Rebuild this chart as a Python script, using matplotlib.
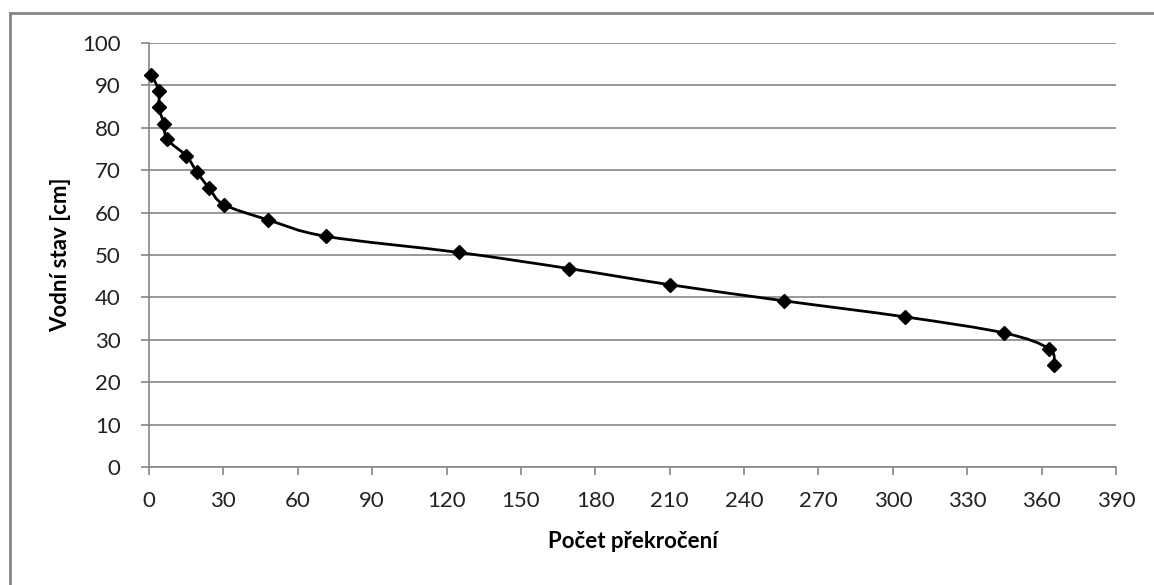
import numpy as np
import matplotlib.pyplot as plt
from matplotlib.path import Path
from matplotlib.patches import PathPatch
from matplotlib.lines import Line2D

plt.rcParams['font.family'] = ['Lato', 'DejaVu Sans']

# Počet překročení (x) a vodní stav v cm (y)
pocet = [1, 4, 4, 6, 7.3, 15, 19.4, 24.2, 30.2, 48, 71.4, 125, 169.4, 210, 256, 305, 345, 363, 365]
stav = [92.5, 88.6, 84.8, 81.0, 77.3, 73.4, 69.5, 65.8, 61.9, 58.3, 54.4, 50.6, 46.8, 43.0, 39.2, 35.4, 31.6, 27.9, 24.1]

x_ticks = list(range(0, 391, 30))
y_ticks = list(range(0, 101, 10))

grid_col = '#868686'

fig = plt.figure(figsize=(11.54, 5.85), dpi=100)
ax = fig.add_axes([149 / 1154, 118 / 585, (1116 - 149) / 1154, (467 - 43) / 585])

# vyhlazená čára (jako v Excelu) - Bezierovy segmenty
pts = np.column_stack([pocet, stav])
verts = [pts[0]]
codes = [Path.MOVETO]
n = len(pts)
for i in range(n - 1):
    p0 = pts[max(i - 1, 0)]
    p1 = pts[i]
    p2 = pts[i + 1]
    p3 = pts[min(i + 2, n - 1)]
    c1 = p1 + (p2 - p0) / 6.0
    c2 = p2 - (p3 - p1) / 6.0
    verts += [c1, c2, p2]
    codes += [Path.CURVE4] * 3
patch = PathPatch(Path(verts, codes), facecolor='none', edgecolor='black', lw=2, zorder=3,
                  clip_on=False)
ax.add_patch(patch)
ax.plot(pocet, stav, linestyle='none', marker='D', markersize=7.5, color='black', zorder=4,
        clip_on=False)

ax.set_xlim(0, 390)
ax.set_ylim(0, 100)
ax.set_xticks(x_ticks)
ax.set_yticks(y_ticks)
ax.yaxis.grid(True, color=grid_col, lw=1.2)
ax.set_axisbelow(True)
for s in ['top', 'right']:
    ax.spines[s].set_visible(False)
for s in ['left', 'bottom']:
    ax.spines[s].set_color(grid_col)
    ax.spines[s].set_linewidth(1.2)
ax.tick_params(axis='both', colors=grid_col, length=5.5, width=1.2, labelsize=16,
               labelcolor='#222222')
ax.tick_params(axis='x', pad=12)
ax.tick_params(axis='y', pad=15)

ax.set_xlabel('Počet překročení', fontsize=16, fontweight='bold', labelpad=14)
ax.set_ylabel('Vodní stav [cm]', fontsize=16, fontweight='bold', labelpad=8)

# rámeček grafu
fig.add_artist(Line2D([10 / 1154, 10 / 1154], [0, 1 - 13 / 585], transform=fig.transFigure,
                      color=grid_col, lw=2))
fig.add_artist(Line2D([10 / 1154, 1], [1 - 13 / 585, 1 - 13 / 585], transform=fig.transFigure,
                      color=grid_col, lw=2))

fig.savefig('out.png', dpi=100)
